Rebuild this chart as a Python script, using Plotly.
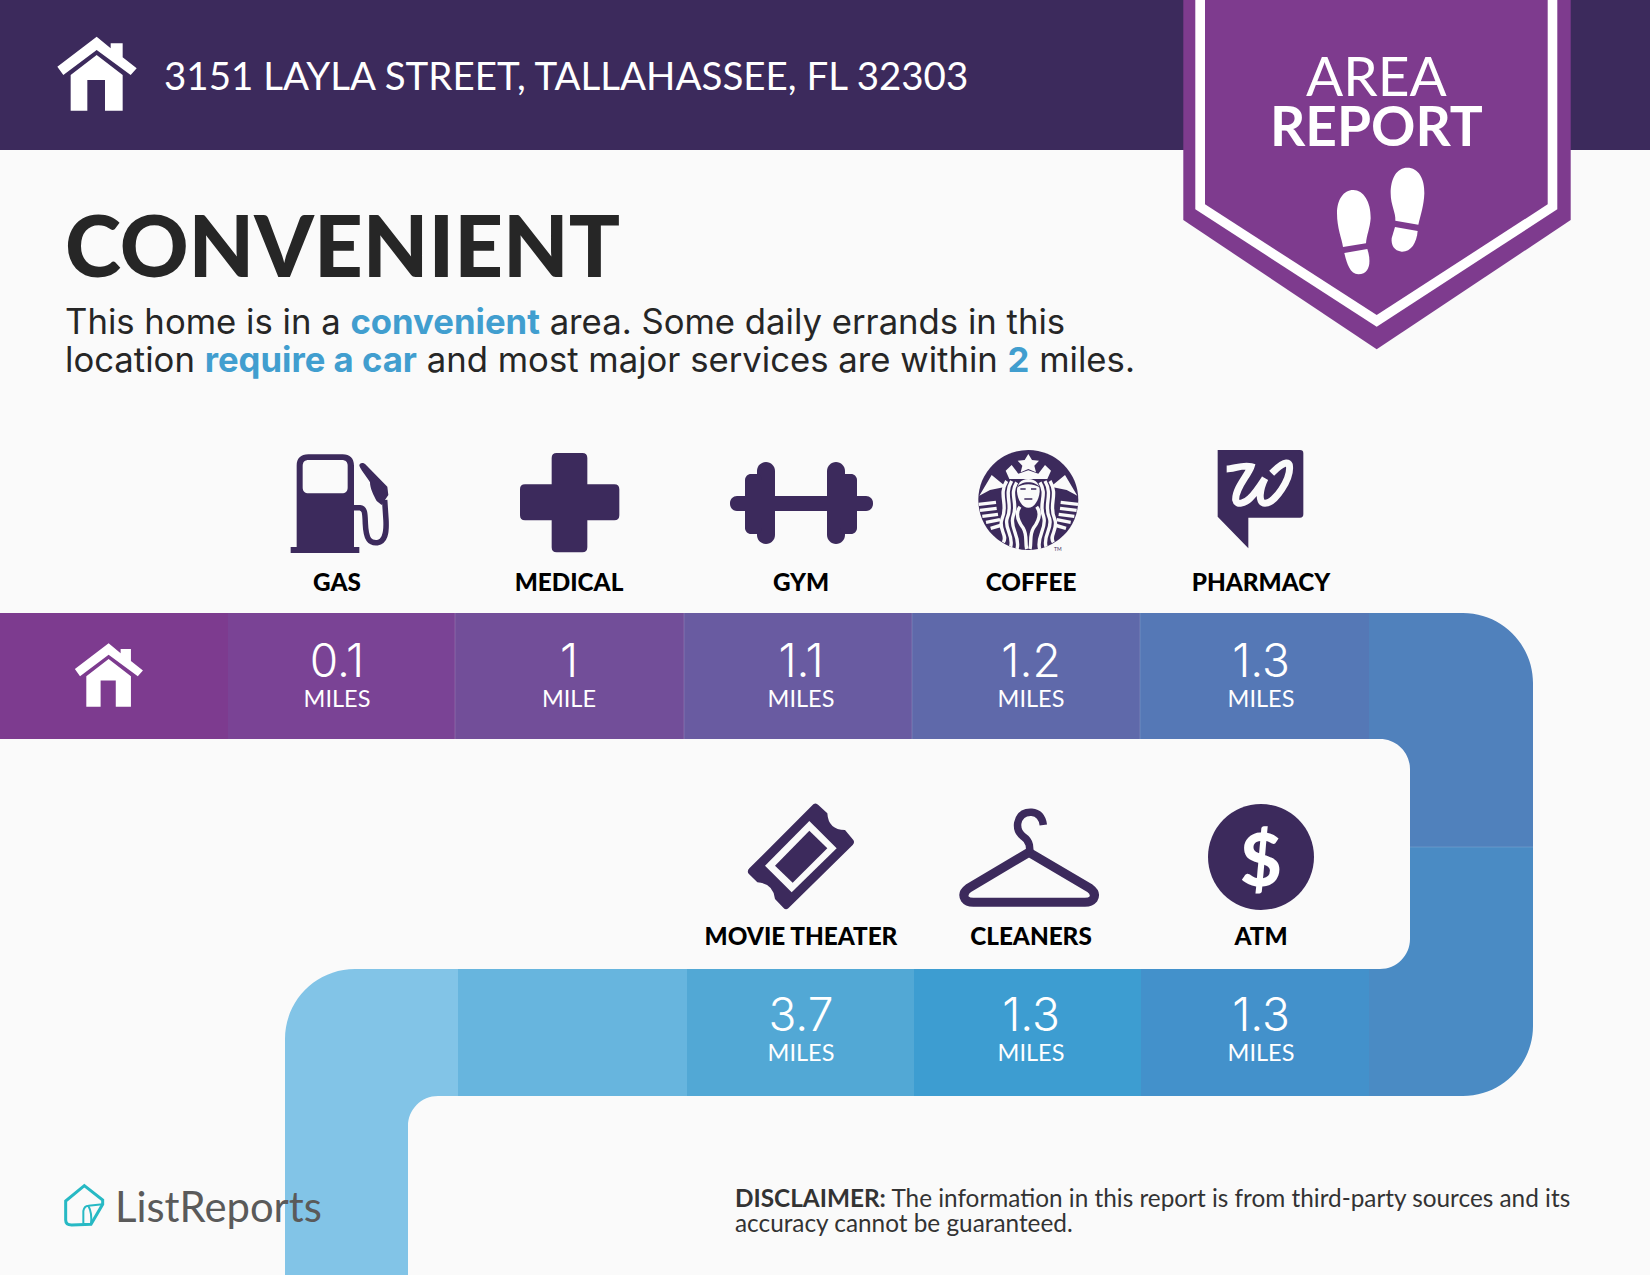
import re
import plotly.graph_objects as go

# --- data
address = "3151 LAYLA STREET, TALLAHASSEE, FL 32303"
top_places = ["GAS", "MEDICAL", "GYM", "COFFEE", "PHARMACY"]
top_miles = [0.1, 1, 1.1, 1.2, 1.3]
low_places = ["MOVIE THEATER", "CLEANERS", "ATM"]
low_miles = [3.7, 1.3, 1.3]

# --- colours
BG = "#fafafa"
DARK = "#3c2a5c"
PURPLE = "#7e3b8e"
INK = "#262626"
BLUE = "#419ecf"
top_colors = ["#7d3b8f", "#7a4395", "#724e99", "#695ba1", "#5f69aa", "#5578b6"]
low_colors = ["#4391cb", "#3d9dd1", "#52a8d5", "#67b5de"]
corner_colors = ["#5081bc", "#4a8bc4", "#82c4e7"]

# --- layout of the band, in page pixels
top_edges = [0, 228, 455, 684, 912, 1140, 1369]
low_edges = [1369, 1141, 914, 687, 458]
top_centers = [337, 569, 801, 1031, 1261]
low_centers = [801, 1031, 1261]

fig = go.Figure()


def add(path, fill=None, color=None, width=0):
    fig.add_shape(type="path", path=path, fillcolor=fill, layer="below",
                  line=dict(color=color, width=width))


def P(ox, oy, s, k=1 / 3, mx=None):
    # path written in crop coordinates -> page coordinates
    out, nums = [], []
    for t in re.findall(r"[MLCQZ]|-?\d+\.?\d*", s):
        if t in "MLCQZ":
            out.append(t)
        else:
            nums.append(float(t))
            if len(nums) == 2:
                x = mx - nums[0] if mx is not None else nums[0]
                out.append(f"{ox + x * k:.2f},{oy + nums[1] * k:.2f}")
                nums = []
    return " ".join(out)


def turn(p0, c, p1):
    # rounded corner from p0 to p1 around corner c
    k = 0.5523
    c1 = (p0[0] + k * (c[0] - p0[0]), p0[1] + k * (c[1] - p0[1]))
    c2 = (p1[0] + k * (c[0] - p1[0]), p1[1] + k * (c[1] - p1[1]))
    return f"C {c1[0]:.2f},{c1[1]:.2f} {c2[0]:.2f},{c2[1]:.2f} {p1[0]},{p1[1]}"


def rrect(x0, y0, x1, y1, r):
    return (f"M {x0 + r},{y0} L {x1 - r},{y0} " + turn((x1 - r, y0), (x1, y0), (x1, y0 + r))
            + f" L {x1},{y1 - r} " + turn((x1, y1 - r), (x1, y1), (x1 - r, y1))
            + f" L {x0 + r},{y1} " + turn((x0 + r, y1), (x0, y1), (x0, y1 - r))
            + f" L {x0},{y0 + r} " + turn((x0, y0 + r), (x0, y0), (x0 + r, y0)) + " Z")


def text(x, y, s, size, color=INK, weight=400, anchor="center", family="Lato"):
    fig.add_annotation(x=x, y=y, text=s, showarrow=False, xanchor=anchor, yanchor="middle",
                       font=dict(family=family, size=size, color=color, weight=weight),
                       borderpad=0, align="left")


# header and badge
fig.add_shape(type="rect", x0=0, x1=1650, y0=0, y1=150, fillcolor=DARK, line_width=0, layer="below")
add("M 1183.3,0 L 1570.7,0 L 1570.7,220 L 1376.7,349.3 L 1183.3,220 Z", PURPLE)
add("M 1195.3,0 L 1557.3,0 L 1557.3,209.3 L 1376.7,326.7 L 1195.3,209.3 Z", "#ffffff")
add("M 1205,0 L 1547.7,0 L 1547.7,204.3 L 1376.7,315 L 1205,204.3 Z", PURPLE)

# footprints
for foot in ["M 712,53 C 745,53 764,85 763,130 C 762,165 752,195 745,224 L 676,212 C 678,190 662,165 662,130 C 662,85 680,53 712,53 Z",
             "M 675,231 L 743,243 C 740,280 722,306 695,305 C 672,303 663,285 665,265 Z",
             "M 550,120 C 580,120 603,155 602,205 C 600,235 590,255 588,280 L 519,291 C 515,265 501,235 501,190 C 501,150 520,120 550,120 Z",
             "M 523,309 L 592,297 C 603,330 603,372 565,373 C 540,372 530,340 523,309 Z"]:
    add(P(1170, 150, foot), "#ffffff")

# house icon, header and band
ROOF = "M 52,140 L 170,50 L 212,85 L 212,70 L 248,70 L 248,112 L 290,145 L 272,165 L 170,90 L 70,165 Z"
BODY = "M 92,165 L 170,105 L 248,165 L 248,272 L 195,272 L 195,180 L 142,180 L 142,272 L 92,272 Z"

# band, top row
for i, col in enumerate(top_colors):
    fig.add_shape(type="rect", x0=top_edges[i], x1=top_edges[i + 1], y0=613, y1=739,
                  fillcolor=col, line_width=0, layer="below")
add(f"M 1369,613 L 1463,613 {turn((1463, 613), (1533, 613), (1533, 683))} L 1533,847 L 1410,847 L 1410,769 "
    f"{turn((1410, 769), (1410, 739), (1380, 739))} L 1369,739 Z", corner_colors[0])
# band, right side and lower row
add(f"M 1410,847 L 1533,847 L 1533,1026 {turn((1533, 1026), (1533, 1096), (1463, 1096))} L 1369,1096 L 1369,969 "
    f"L 1380,969 {turn((1380, 969), (1410, 969), (1410, 939))} Z", corner_colors[1])
for i, col in enumerate(low_colors):
    fig.add_shape(type="rect", x0=low_edges[i + 1], x1=low_edges[i], y0=969, y1=1096,
                  fillcolor=col, line_width=0, layer="below")
add(f"M 458,969 L 355,969 {turn((355, 969), (285, 969), (285, 1039))} L 285,1275 L 408,1275 L 408,1126 "
    f"{turn((408, 1126), (408, 1096), (438, 1096))} L 458,1096 Z", corner_colors[2])
# faint seams
for x in top_edges[2:6]:
    fig.add_shape(type="line", x0=x, x1=x, y0=613, y1=739, line=dict(color="rgba(255,255,255,0.15)", width=1), layer="below")
fig.add_shape(type="line", x0=1410, x1=1533, y0=847, y1=847, line=dict(color="rgba(255,255,255,0.15)", width=1), layer="below")

add(P(40, 20, ROOF), "#ffffff")
add(P(40, 20, BODY), "#ffffff")
add(P(60, 629, ROOF, k=0.286), "#ffffff")
add(P(60, 629, BODY, k=0.286), "#ffffff")

# gas pump
G = (280, 445)
add(P(*G, "M 50,306 L 50,62 C 50,40 62,28 85,28 L 188,28 C 210,28 222,40 222,62 L 222,306 Z "
          "M 86,45 C 74,45 68,51 68,63 L 68,127 C 68,139 74,145 86,145 L 185,145 C 197,145 203,139 203,127 L 203,63 C 203,51 197,45 185,45 Z"), DARK)
add(P(*G, "M 32,315 L 238,315"), None, DARK, 6)
add(P(*G, "M 222,188 L 240,188 C 255,190 255,205 256,235 C 258,285 270,295 292,293 C 315,290 320,265 318,225 L 314,165"), None, DARK, 5.5)
add(P(*G, "M 238,62 C 238,52 250,52 256,58 L 322,125 L 325,150 L 305,180 L 290,168 C 280,150 270,130 270,112 C 265,100 245,80 238,62 Z"), DARK)

# medical cross
M = (280, 445)
add(P(*M, "M 830,24 L 907,24 C 917,24 922,29 922,39 L 922,118 L 1003,118 C 1013,118 1018,123 1018,133 L 1018,211 C 1018,221 1013,226 1003,226 "
          "L 922,226 L 922,307 C 922,317 917,322 907,322 L 830,322 C 820,322 815,317 815,307 L 815,226 L 735,226 C 725,226 720,221 720,211 "
          "L 720,133 C 720,123 725,118 735,118 L 815,118 L 815,39 C 815,29 820,24 830,24 Z"), DARK)

# dumbbell
add(rrect(730, 496, 873, 511, 7), DARK)
add(rrect(757, 462, 775, 544, 9), DARK)
add(rrect(827, 462, 845, 544, 9), DARK)
add(rrect(745, 474, 762, 534, 6), DARK)
add(rrect(840, 474, 857, 534, 6), DARK)

# coffee logo
C = (970, 445)
W = "#fafafa"
fig.add_shape(type="circle", x0=978.3, x1=1078.3, y0=450, y1=550, fillcolor=DARK, line_width=0, layer="below")
add(P(*C, "M 175,27 L 186,45 L 207,47 L 193,62 L 198,82 L 175,72 L 152,82 L 157,62 L 143,47 L 164,45 Z"), W)
add(P(*C, "M 107,77 L 125,60 L 145,86 L 175,76 L 205,86 L 225,60 L 243,77 L 232,102 L 118,102 Z"), W)
for mx in (None, 350):
    add(P(*C, "M 65,90 L 108,125 L 60,135 L 28,152 Z", mx=mx), W)
    for s in ["M 125,108 C 100,150 130,180 112,218 C 100,250 132,270 122,305",
              "M 110,108 C 84,150 116,180 96,222 C 84,255 114,270 100,292",
              "M 140,112 C 116,150 146,175 129,215 C 118,250 152,275 141,312",
              "M 150,185 C 135,205 145,230 160,250 C 172,270 165,290 170,312"]:
        add(P(*C, s, mx=mx), None, W, 3.4)
    for s in ["M 26,178 L 78,172", "M 30,196 L 80,190", "M 37,214 L 84,208", "M 48,232 L 90,224", "M 62,250 L 96,240"]:
        add(P(*C, s, mx=mx), None, W, 3.4)
add(P(*C, "M 175,102 C 198,102 210,118 209,140 C 207,165 193,188 175,188 C 157,188 143,165 141,140 C 140,118 152,102 175,102 Z"), W)
add(P(*C, "M 141,128 C 150,106 200,106 209,128 C 195,114 155,114 141,128 Z"), DARK)
add(P(*C, "M 151,132 L 167,132 M 183,132 L 199,132 M 163,162 L 187,162"), None, DARK, 1.5)

# pharmacy logo
Wg = (970, 445)
add(P(*Wg, "M 743,15 L 990,15 C 997,15 1000,18 1000,25 L 1000,208 C 1000,215 997,218 990,218 L 835,218 L 835,310 L 743,215 Z"), DARK)
add(P(*Wg, "M 770,72 C 790,72 820,58 843,65 C 835,90 795,130 797,165 C 800,182 825,175 840,160 C 860,140 875,115 885,100 "
           "C 870,130 862,175 885,175 C 915,175 965,100 958,60 C 950,42 920,70 905,85"), None, W, 7)

# ticket
T = (730, 795)
add(P(*T, "M 250,28 Q 258,22 265,30 L 292,55 Q 295,105 345,105 L 370,135 Q 375,142 368,150 L 175,340 Q 167,346 160,338 "
          "L 135,312 Q 130,265 82,262 L 56,236 Q 50,228 58,220 Z"), DARK)
add(P(*T, "M 238,78 L 320,160 L 185,292 L 105,212 Z"), W)
add(P(*T, "M 238,107 L 292,160 L 188,263 L 135,212 Z"), DARK)

# hanger
add(P(*T, "M 897,172 L 1080,280 Q 1100,295 1090,312 Q 1082,322 1065,322 L 730,322 Q 712,322 705,312 Q 695,295 715,280 Z"), None, DARK, 9)
add(P(*T, "M 900,172 L 898,150 Q 895,135 880,125 Q 860,110 863,85 Q 870,50 905,52 Q 935,55 940,90"), None, DARK, 7.5)

# atm
fig.add_shape(type="circle", x0=1208, x1=1314, y0=804, y1=910, fillcolor=DARK, line_width=0, layer="below")
text(1261, 858, "$", 72, "#ffffff", 900)

# logo, bottom left
L = (55, 1175)
add(P(*L, "M 88,32 L 143,75 L 143,88 L 108,148 L 50,150 C 38,150 32,145 32,135 L 32,78 Z"), None, "#27b9c4", 3)
add(P(*L, "M 85,145 L 85,108 C 87,97 92,92 100,92 L 143,88 M 100,92 C 110,110 110,130 108,148"), None, "#27b9c4", 2)

# texts
text(163, 75, address, 38.5, "#ffffff", 400, "left")
text(1376.5, 75, "AREA", 55, "#ffffff", 400)
text(1376.5, 125, "REPORT", 55, "#ffffff", 700)
text(64, 244, "CONVENIENT", 85, INK, 900, "left")
hl = lambda s: f'<b><span style="color:{BLUE}">{s}</span></b>'
text(64, 321, f"This home is in a {hl('convenient')} area. Some daily errands in this", 34.7, INK, 400, "left", "Inter")
text(64, 359, f"location {hl('require a car')} and most major services are within {hl('2')} miles.", 34.7, INK, 400, "left", "Inter")
text(113.5, 1206, "ListReports", 41.8, "#5a5a5a", 400, "left")
text(734, 1197, "<b>DISCLAIMER:</b> The information in this report is from third-party sources and its", 24.35, "#333333", 400, "left")
text(734, 1222, "accuracy cannot be guaranteed.", 24.35, "#333333", 400, "left")
fig.add_annotation(x=1058, y=549, text="TM", showarrow=False, font=dict(family="Lato", size=5, color=DARK))

# place names and distances
fig.add_trace(go.Scatter(x=top_centers, y=[585] * 5, text=top_places, mode="text",
                         textfont=dict(family="Lato", size=24.3, color="#000000", weight=900), hoverinfo="skip"))
fig.add_trace(go.Scatter(x=low_centers, y=[939] * 3, text=low_places, mode="text",
                         textfont=dict(family="Lato", size=24.3, color="#000000", weight=900), hoverinfo="skip"))
fig.add_trace(go.Scatter(x=top_centers, y=[665] * 5, text=[str(v) for v in top_miles], mode="text",
                         textfont=dict(family="Inter", size=46, color="#ffffff", weight=300), hoverinfo="skip"))
fig.add_trace(go.Scatter(x=low_centers, y=[1019] * 3, text=[str(v) for v in low_miles], mode="text",
                         textfont=dict(family="Inter", size=46, color="#ffffff", weight=300), hoverinfo="skip"))
fig.add_trace(go.Scatter(x=top_centers, y=[701] * 5, text=["MILE" if v == 1 else "MILES" for v in top_miles], mode="text",
                         textfont=dict(family="Lato", size=23.5, color="#ffffff", weight=400), hoverinfo="skip"))
fig.add_trace(go.Scatter(x=low_centers, y=[1055] * 3, text=["MILE" if v == 1 else "MILES" for v in low_miles], mode="text",
                         textfont=dict(family="Lato", size=23.5, color="#ffffff", weight=400), hoverinfo="skip"))

fig.update_xaxes(range=[0, 1650], visible=False, fixedrange=True)
fig.update_yaxes(range=[1275, 0], visible=False, fixedrange=True)
fig.update_layout(width=1650, height=1275, margin=dict(l=0, r=0, t=0, b=0), showlegend=False,
                  paper_bgcolor=BG, plot_bgcolor=BG)

fig.write_html("out.html", config=dict(displayModeBar=False),
               post_script="document.body.style.margin='0';document.body.style.overflow='hidden';")
